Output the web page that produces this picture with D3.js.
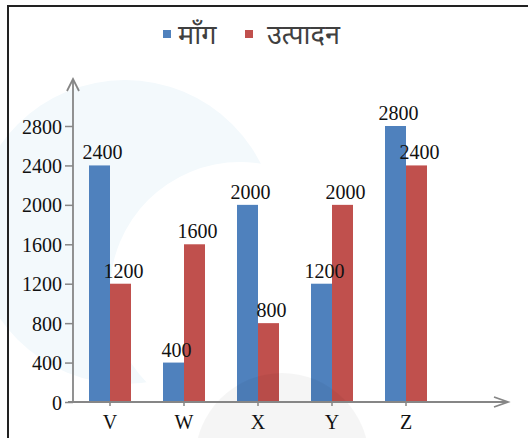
<!DOCTYPE html>
<html>
<head>
<meta charset="utf-8">
<script src="https://cdn.jsdelivr.net/npm/d3@7"></script>
<style>
    body { margin: 0; background: #fff; }
    svg { display: block; }
    .tick-label, .value-label, .cat-label { font-family: "Liberation Serif", "Times New Roman", serif; font-size: 20px; fill: #111; }
    .legend-label { font-family: "Noto Sans", sans-serif; font-size: 27px; fill: #404040; }
</style>
</head>
<body>
<div id="chart"></div>
<script>
// data
let categories = ["V", "W", "X", "Y", "Z"];
let seriesNames = ["माँग", "उत्पादन"];
let demand = [2400, 400, 2000, 1200, 2800];
let production = [1200, 1600, 800, 2000, 2400];
let yTicks = [0, 400, 800, 1200, 1600, 2000, 2400, 2800];

let colors = ["#4f81bd", "#c0504d"];

let width = 528, height = 438;

let svg = d3.select("#chart")
    .append("svg")
    .attr("width", width)
    .attr("height", height);

// faint watermark behind everything
svg.append("circle")
    .attr("cx", 125).attr("cy", 232).attr("r", 152)
    .attr("fill", "#f3f9fc");
svg.append("circle")
    .attr("cx", 240).attr("cy", 292).attr("r", 130)
    .attr("fill", "#fff");

let x = d3.scaleBand()
    .domain(categories)
    .range([73, 443]);

let x1 = d3.scaleBand()
    .domain(seriesNames)
    .range([0, 42]);

let y = d3.scaleLinear()
    .domain([0, 2800])
    .range([402, 126]);

let rows = categories.map((c, i) => ({cat: c, values: [demand[i], production[i]]}));

let offset = (x.bandwidth() - 42) / 2;

// bars
let groups = svg.append("g")
    .selectAll("g")
    .data(rows)
    .join("g")
    .attr("transform", d => `translate(${x(d.cat) + offset},0)`);

groups.selectAll("rect")
    .data(d => d.values.map((v, i) => ({name: seriesNames[i], value: v, i: i})))
    .join("rect")
    .attr("x", d => x1(d.name))
    .attr("width", x1.bandwidth())
    .attr("y", d => y(d.value))
    .attr("height", d => y(0) - y(d.value))
    .attr("fill", d => colors[d.i]);

groups.selectAll("text")
    .data(d => d.values.map((v, i) => ({name: seriesNames[i], value: v, i: i})))
    .join("text")
    .attr("class", "value-label")
    .attr("x", d => x1(d.name) + x1.bandwidth() / 2 + 3)
    .attr("y", d => y(d.value) - 6)
    .attr("text-anchor", "middle")
    .text(d => d.value);

// grey watermark on top, very light
svg.append("circle")
    .attr("cx", 282).attr("cy", 460).attr("r", 87)
    .attr("fill", "#000")
    .attr("opacity", 0.04);

// y axis
let axisColor = "#868686";
let yAxis = svg.append("g")
    .attr("transform", "translate(73,0)")
    .call(d3.axisLeft(y).tickValues(yTicks).tickFormat(d3.format("d")).tickSize(8).tickSizeOuter(0).tickPadding(3));
yAxis.select(".domain").remove();
yAxis.selectAll(".tick line").attr("stroke", axisColor).attr("stroke-width", 1.5);
yAxis.selectAll(".tick text").attr("class", "tick-label").attr("font-size", null).attr("font-family", null).attr("dy", "0.35em");

svg.append("line")
    .attr("x1", 73).attr("x2", 73)
    .attr("y1", y(0)).attr("y2", 79)
    .attr("stroke", axisColor).attr("stroke-width", 1.8);
svg.append("path")
    .attr("d", "M67,91L73,79L79,91")
    .attr("fill", "none").attr("stroke", axisColor).attr("stroke-width", 1.8);

// x axis
let xAxis = svg.append("g")
    .attr("transform", `translate(0,${y(0)})`)
    .call(d3.axisBottom(x).tickSize(4).tickSizeOuter(0).tickPadding(9));
xAxis.select(".domain").remove();
xAxis.selectAll(".tick line").attr("stroke", axisColor).attr("stroke-width", 1.5);
xAxis.selectAll(".tick text").attr("class", "cat-label").attr("font-size", null).attr("font-family", null);

svg.append("line")
    .attr("x1", 68).attr("x2", 508)
    .attr("y1", y(0)).attr("y2", y(0))
    .attr("stroke", axisColor).attr("stroke-width", 1.8);
svg.append("path")
    .attr("d", `M494,${y(0) - 5}L508,${y(0)}L494,${y(0) + 5}`)
    .attr("fill", "none").attr("stroke", axisColor).attr("stroke-width", 1.8);

// legend
let legendX = [163, 245];
let legend = svg.append("g")
    .selectAll("g")
    .data(seriesNames)
    .join("g")
    .attr("transform", (d, i) => `translate(${legendX[i]},30)`);
legend.append("rect")
    .attr("width", 8).attr("height", 8)
    .attr("fill", (d, i) => colors[i]);
legend.append("text")
    .attr("class", "legend-label")
    .attr("x", (d, i) => i === 0 ? 15 : 22)
    .attr("y", 14)
    .text(d => d);

// frame
svg.append("path")
    .attr("d", `M8,${height}V6H${width}`)
    .attr("fill", "none")
    .attr("stroke", "#222")
    .attr("stroke-width", 2);
</script>
</body>
</html>
